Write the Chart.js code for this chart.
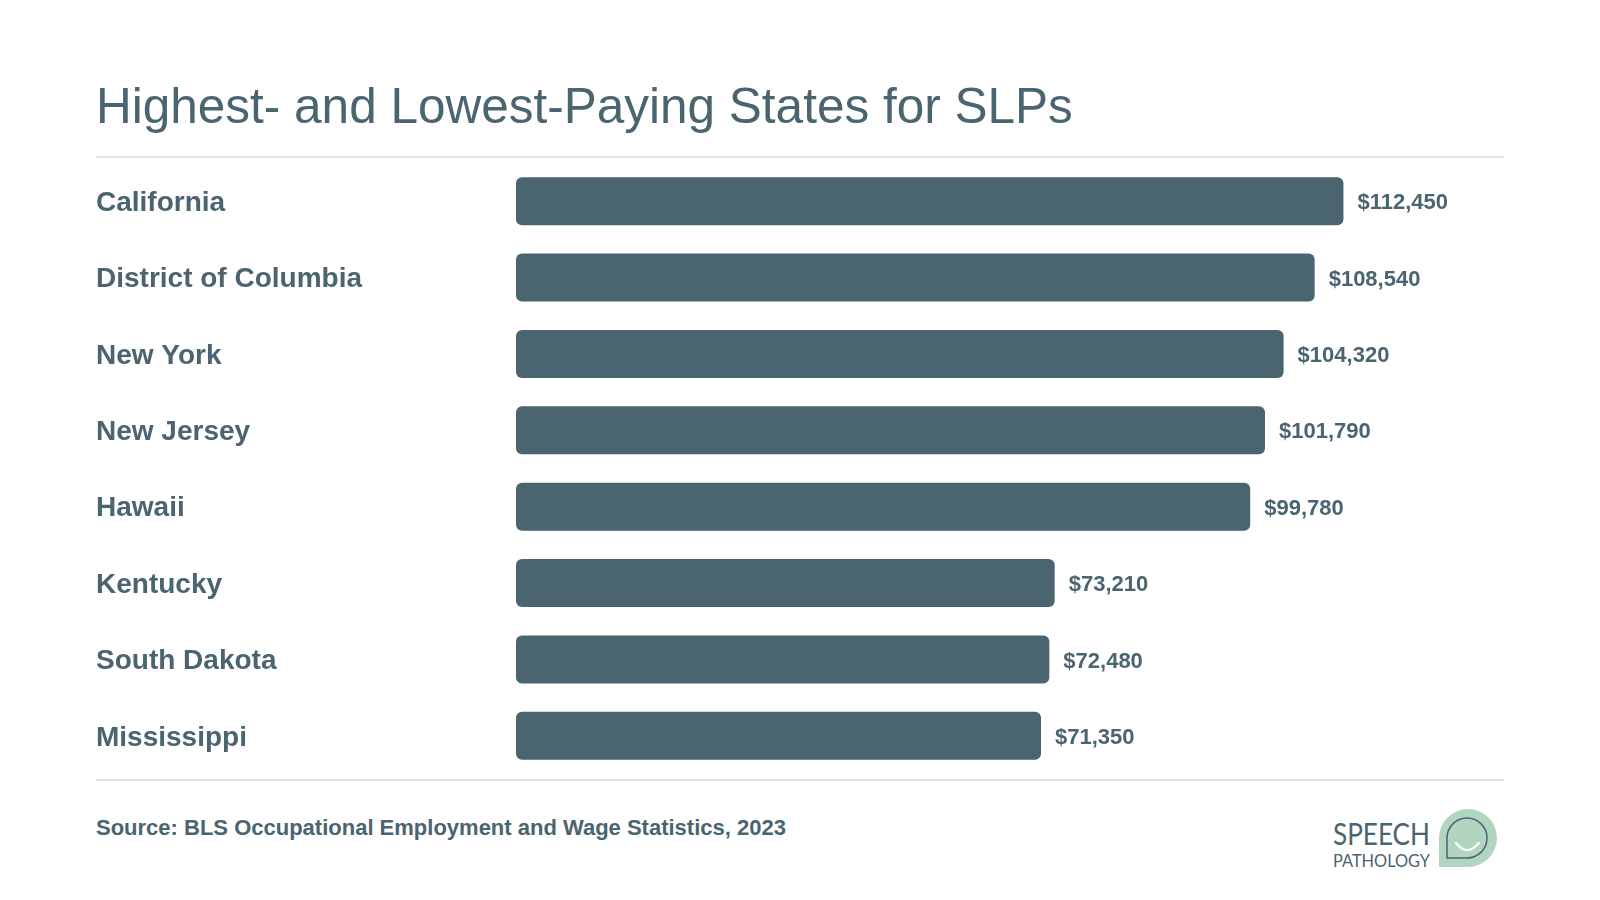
<!DOCTYPE html>
<html>
<head>
<meta charset="utf-8">
<script src="https://cdn.jsdelivr.net/npm/chart.js@4"></script>
<style>
  html, body { margin: 0; padding: 0; background: #fff; }
  body { width: 1600px; height: 900px; position: relative; overflow: hidden; font-family: "Liberation Sans", Arial, sans-serif; color: #4a6470; }
  .title { position: absolute; left: 96px; top: 81px; font-size: 49.5px; line-height: 1; white-space: nowrap; }
  .rule { position: absolute; left: 96px; width: 1408px; height: 2px; background: #dfe4e8; }
  .chart-wrap { position: absolute; left: 96px; top: 163px; width: 1406px; height: 611px; }
  .source { position: absolute; left: 96px; top: 817px; font-size: 22px; font-weight: bold; line-height: 1; white-space: nowrap; }
  .logo { position: absolute; left: 1300px; top: 795px; }
</style>
</head>
<body>
<div class="title">Highest- and Lowest-Paying States for SLPs</div>
<div class="rule" style="top:156px"></div>
<div class="chart-wrap"><canvas id="barChart"></canvas></div>
<div class="rule" style="top:779px"></div>
<div class="source">Source: BLS Occupational Employment and Wage Statistics, 2023</div>
<svg class="logo" width="210" height="85" viewBox="1300 795 210 85">
  <text x="1333" y="845" font-size="30" textLength="97" lengthAdjust="spacingAndGlyphs" fill="#4a6470" font-family="Lato, 'Liberation Sans', sans-serif" font-weight="400">SPEECH</text>
  <text x="1333" y="867" font-size="17" textLength="97" lengthAdjust="spacingAndGlyphs" fill="#4a6470" font-family="Lato, 'Liberation Sans', sans-serif" font-weight="400">PATHOLOGY</text>
  <path d="M1439 867 L1439 838 A29 29 0 1 1 1468 867 Z" fill="#b2d5c0"/>
  <path d="M1447 858 L1447 838 A20 20 0 1 1 1467 858 Z" fill="none" stroke="#4a6470" stroke-width="1.5"/>
  <path d="M1456 843 Q1467 857 1479 843" fill="none" stroke="#fff" stroke-width="2.2" stroke-linecap="round"/>
</svg>
<script>
  const states = [
    "California",
    "District of Columbia",
    "New York",
    "New Jersey",
    "Hawaii",
    "Kentucky",
    "South Dakota",
    "Mississippi"
  ];
  const salaries = [112450, 108540, 104320, 101790, 99780, 73210, 72480, 71350];
  const axisMax = 134000;

  const inkColor = "#4a6470";

  function formatDollars(value) {
    return "$" + new Intl.NumberFormat("en-US").format(value);
  }

  const valueLabels = {
    id: "valueLabels",
    afterDatasetsDraw(chart) {
      const { ctx } = chart;
      const meta = chart.getDatasetMeta(0);
      ctx.save();
      ctx.font = "bold 22px 'Liberation Sans', Arial, sans-serif";
      ctx.fillStyle = inkColor;
      ctx.textAlign = "left";
      ctx.textBaseline = "middle";
      meta.data.forEach((bar, index) => {
        ctx.fillText(formatDollars(salaries[index]), bar.x + 14, bar.y + 2);
      });
      ctx.restore();
    }
  };

  new Chart(document.getElementById("barChart"), {
    type: "bar",
    data: {
      labels: states,
      datasets: [{
        data: salaries,
        backgroundColor: inkColor,
        borderRadius: 6,
        borderSkipped: false,
        categoryPercentage: 1,
        barPercentage: 0.63
      }]
    },
    options: {
      indexAxis: "y",
      responsive: true,
      maintainAspectRatio: false,
      animation: false,
      layout: { padding: 0 },
      plugins: {
        legend: { display: false },
        tooltip: { enabled: false }
      },
      scales: {
        x: {
          display: false,
          min: 0,
          max: axisMax
        },
        y: {
          grid: { display: false },
          border: { display: false },
          afterFit(scale) {
            scale.width = 420;
            scale.paddingTop = 0;
            scale.paddingBottom = 0;
          },
          ticks: {
            crossAlign: "far",
            padding: 0,
            labelOffset: 2,
            color: inkColor,
            font: { family: "'Liberation Sans', Arial, sans-serif", size: 28, weight: "bold" }
          }
        }
      }
    },
    plugins: [valueLabels]
  });
</script>
</body>
</html>
